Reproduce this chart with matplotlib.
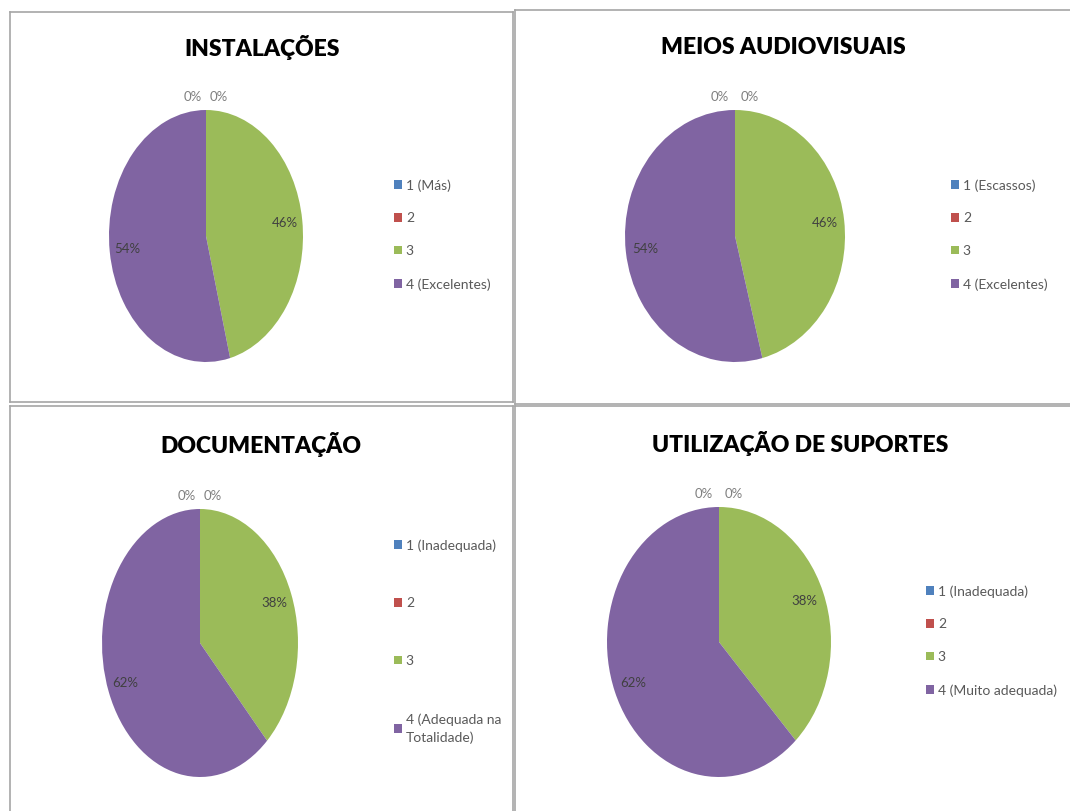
import matplotlib
matplotlib.use("Agg")
from matplotlib import pyplot as plt
from matplotlib.lines import Line2D

W, H = 1070, 811

# data
titles = ["INSTALAÇÕES", "MEIOS AUDIOVISUAIS", "DOCUMENTAÇÃO", "UTILIZAÇÃO DE SUPORTES"]
cats_instalacoes = ["1 (Más)", "2", "3", "4 (Excelentes)"]
vals_instalacoes = [0, 0, 46, 54]
cats_meios = ["1 (Escassos)", "2", "3", "4 (Excelentes)"]
vals_meios = [0, 0, 46, 54]
cats_documentacao = ["1 (Inadequada)", "2", "3", "4 (Adequada na\nTotalidade)"]
vals_documentacao = [0, 0, 38, 62]
cats_suportes = ["1 (Inadequada)", "2", "3", "4 (Muito adequada)"]
vals_suportes = [0, 0, 38, 62]

colors = ["#4F81BD", "#C0504D", "#9BBB59", "#8064A2"]

plt.rcParams['font.family'] = ['Lato', 'DejaVu Sans']


def fx(x):
    return x / W


def fy(y):
    return 1 - y / H


def draw_panel(fig, title, cats, vals, pie_box, title_xy, leg_xy, leg_space):
    cx, cy, rx, ry = pie_box
    ax = fig.add_axes([fx(cx - rx), fy(cy + ry), 2 * rx / W, 2 * ry / H])
    wedges, _, autotexts = ax.pie(
        vals, colors=colors, startangle=90, counterclock=False,
        autopct=lambda p: f"{p:.0f}%", pctdistance=0.82,
        textprops=dict(fontsize=9.5, color="#404040"))
    ax.set_aspect("auto")
    ax.set_xlim(-1, 1)
    ax.set_ylim(-1, 1)
    ax.axis("off")

    # zero slices: labels sit just above the top of the pie
    zero_pos = [(-0.14, 1.1), (0.13, 1.1)]
    k = 0
    for t, v in zip(autotexts, vals):
        if v == 0:
            t.set_position(zero_pos[k])
            t.set_color("#7f7f7f")
            k += 1

    fig.text(fx(title_xy[0]), fy(title_xy[1]), title, ha="center", va="center",
             fontsize=16.5, fontweight="heavy", color="black")

    leg = fig.legend(wedges, cats, loc="upper left",
                     bbox_to_anchor=(fx(leg_xy[0]), fy(leg_xy[1])),
                     frameon=False, fontsize=10, labelcolor="#595959",
                     handlelength=0.55, handleheight=0.55, handletextpad=0.3,
                     labelspacing=leg_space, borderpad=0, borderaxespad=0)
    for t in leg.get_texts():
        t.set_linespacing(1.55)


fig = plt.figure(figsize=(W / 100, H / 100), dpi=100)

draw_panel(fig, titles[0], cats_instalacoes, vals_instalacoes,
           (206, 236, 97, 126), (262, 48), (394, 179), 1.5)
draw_panel(fig, titles[1], cats_meios, vals_meios,
           (735, 236, 110, 126), (783, 47), (951, 179), 1.5)
draw_panel(fig, titles[2], cats_documentacao, vals_documentacao,
           (200, 643, 98, 134), (261, 445), (394, 539), 3.3)
draw_panel(fig, titles[3], cats_suportes, vals_suportes,
           (719, 642, 112, 135), (800, 443), (926, 585), 1.5)

# panel borders
border = dict(color="#a6a6a6", lw=1.2, transform=fig.transFigure)
segs = [
    ((10, 10), (12, 402)), ((10, 513), (12, 12)), ((513, 513), (12, 402)), ((10, 513), (402, 402)),
    ((515, 515), (10, 404)), ((515, 1070), (10, 10)), ((515, 1070), (404, 404)),
    ((10, 10), (406, 811)), ((10, 513), (406, 406)), ((513, 513), (406, 811)),
    ((515, 515), (406, 811)), ((515, 1070), (406, 406)),
]
for xs, ys in segs:
    fig.add_artist(Line2D([fx(x) for x in xs], [fy(y) for y in ys], **border))

fig.savefig("out.png", dpi=100)
